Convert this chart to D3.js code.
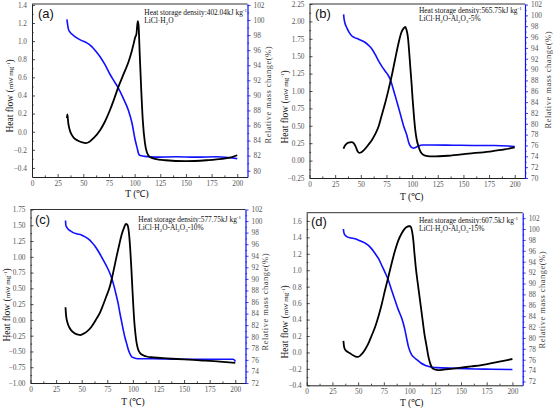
<!DOCTYPE html>
<html><head><meta charset="utf-8">
<script src="https://cdn.jsdelivr.net/npm/d3@7"></script>
<style>body{margin:0;background:#fff}svg{display:block}</style>
</head><body>
<svg id="c" width="553" height="408"></svg>
<script>
// ---------- data ----------
const tempTicks = [0,25,50,75,100,125,150,175,200];

const heatA = [[34,0.15],[34.5,0.19],[35.3,0.1],[36.5,0.03],[38.5,-0.03],[41,-0.07],[45,-0.1],[49,-0.118],[52.5,-0.125],[56,-0.11],[60,-0.07],[66.5,0.02],[71,0.11],[76,0.24],[80,0.36],[84,0.49],[89,0.63],[94,0.77],[97,0.88],[99,0.97],[100.5,1.04],[101.8,1.08],[103,1.22],[103.8,1.18],[105,0.85],[106.5,0.45],[108,0.12],[110,-0.12],[112,-0.23],[115,-0.28],[120,-0.3],[130,-0.315],[150,-0.325],[170,-0.315],[185,-0.3],[195,-0.28],[200,-0.26]];
const massA = [[34,100.1],[34.7,99.4],[35.5,98.8],[37,98.4],[40,98.0],[44,97.6],[48,97.3],[53,97.0],[58,96.5],[62,95.9],[66.5,95.1],[71,94.1],[76,92.8],[80,91.9],[84,91.0],[89,89.6],[94,88.0],[97.5,86.3],[100.5,84.1],[102.5,83.0],[104,82.2],[105.5,82.0],[110,81.9],[120,81.8],[140,81.85],[160,81.8],[180,81.85],[200,81.6]];

const heatB = [[33.2,0.17],[34,0.2],[36,0.24],[38,0.26],[41,0.265],[43,0.25],[45,0.2],[47,0.13],[48.5,0.11],[50.5,0.12],[53,0.15],[57,0.22],[61,0.3],[64,0.38],[67.3,0.49],[70,0.63],[73.8,0.83],[77,1.02],[80.3,1.23],[83.5,1.46],[86.8,1.69],[89.5,1.84],[91.7,1.9],[93.3,1.92],[94.5,1.88],[96,1.76],[97.2,1.55],[98.2,1.35],[99.5,1.1],[100.5,0.88],[102,0.6],[103,0.45],[104.5,0.3],[106.3,0.2],[108.5,0.12],[111.2,0.08],[115,0.065],[120,0.06],[135,0.07],[155,0.1],[175,0.13],[190,0.16],[200,0.19]];
const massB = [[33.2,100.2],[33.8,99.2],[34.5,98.6],[36.4,97.7],[38.5,96.9],[41.3,96.2],[44,95.9],[47.8,95.6],[54.3,95.0],[58,94.4],[60.8,93.8],[64,92.8],[67.3,91.6],[70.5,90.6],[73.8,89.7],[76.5,89.0],[78.7,88.2],[81,86.8],[83.6,85.1],[86,83.5],[88.5,81.8],[91.7,79.6],[95,77.8],[96.6,76.6],[98.2,75.9],[100,75.6],[101.5,75.5],[103,75.6],[106.3,75.9],[109.6,76.1],[119.3,76.1],[140,76.05],[161.6,76.0],[180,76.0],[194,75.9],[200,75.8]];

const heatC = [[34.2,0.2],[34.5,0.12],[35,0.04],[36.2,-0.05],[38,-0.12],[40,-0.17],[43,-0.21],[46.6,-0.235],[48.5,-0.24],[51,-0.225],[54.7,-0.19],[59,-0.12],[64.5,0.02],[68,0.12],[71,0.24],[74,0.37],[77.5,0.53],[81,0.77],[84,1.0],[86.5,1.18],[89,1.35],[91.3,1.46],[93.2,1.52],[94.5,1.51],[95.5,1.46],[96.5,1.32],[97.5,1.1],[98.5,0.82],[99.5,0.5],[100.5,0.2],[101.5,-0.05],[102.5,-0.22],[103.6,-0.36],[105,-0.46],[106.8,-0.52],[110,-0.56],[113.4,-0.58],[120,-0.595],[133,-0.61],[150,-0.625],[165.5,-0.64],[185,-0.66],[200,-0.68]];
const massC = [[34.2,100.1],[34.5,99.3],[35.5,98.9],[36.8,98.6],[39,98.3],[41.7,98.0],[45,97.8],[49.8,97.6],[53,97.3],[56.4,96.9],[60,96.3],[62.9,95.7],[65.5,95.0],[67.8,94.3],[71,93.3],[74.3,92.2],[77,91.2],[79.2,90.2],[81.5,88.8],[84,87.0],[85.8,85.6],[87.3,84.1],[89,82.6],[90.6,81.2],[92.2,79.9],[93.8,78.9],[95.5,77.8],[97,77.1],[98.6,76.6],[100.3,76.4],[103,76.25],[106.8,76.2],[120,76.2],[133,76.15],[150,76.1],[165.5,76.1],[185,76.1],[198,76.1],[199.5,75.9],[200,75.7]];

const heatD = [[35.7,0.14],[36,0.1],[36.5,0.06],[37.9,0.025],[40,0.005],[42,-0.01],[45,-0.035],[47.5,-0.05],[49.6,-0.055],[51.5,-0.045],[53.5,-0.02],[56.5,0.03],[60,0.11],[63,0.2],[66.5,0.31],[70,0.45],[73,0.59],[76,0.75],[79.4,0.92],[82.5,1.08],[85.9,1.24],[89,1.36],[92.4,1.45],[95,1.5],[97.2,1.525],[99,1.535],[100.5,1.535],[101.5,1.52],[102.5,1.47],[103.7,1.36],[104.8,1.2],[106,1.04],[108,0.84],[110.2,0.63],[112.3,0.43],[114.4,0.23],[116.5,0.08],[118.3,-0.05],[120,-0.13],[121.6,-0.18],[124,-0.205],[128,-0.215],[133,-0.21],[140,-0.2],[150,-0.185],[160,-0.17],[170,-0.155],[180,-0.13],[190,-0.105],[200,-0.08]];
const massD = [[35.7,100.0],[36,99.5],[36.6,99.1],[37.7,98.8],[38.9,98.6],[42,98.4],[47,98.2],[50,98.0],[53.5,97.7],[57,97.4],[60,97.0],[63,96.4],[66.5,95.5],[70,94.5],[73,93.3],[76,92.1],[79.4,90.6],[82.5,88.8],[85.9,86.9],[89,85.2],[92.4,83.6],[94,82.6],[95.6,81.4],[97.2,79.9],[98.9,78.4],[100.5,77.5],[102.1,76.9],[104.5,76.4],[107,76.0],[111,75.4],[115,75.0],[118,74.8],[121.6,74.6],[126,74.55],[131.3,74.5],[145,74.4],[163.7,74.3],[180,74.25],[200,74.2]];

const heatTicksA = [-0.4,-0.2,0,0.2,0.4,0.6,0.8,1.0,1.2,1.4];
const heatTicksB = [-0.25,0,0.25,0.5,0.75,1.0,1.25,1.5,1.75,2.0,2.25];
const heatTicksC = [-1.0,-0.75,-0.5,-0.25,0,0.25,0.5,0.75,1.0,1.25,1.5,1.75];
const heatTicksD = [-0.4,-0.2,0,0.2,0.4,0.6,0.8,1.0,1.2,1.4,1.6];
const massTicksA = [80,82,84,86,88,90,92,94,96,98,100,102];
const massTicksB = [70,72,74,76,78,80,82,84,86,88,90,92,94,96,98,100,102];
const massTicksC = [72,74,76,78,80,82,84,86,88,90,92,94,96,98,100,102];
const massTicksD = [72,74,76,78,80,82,84,86,88,90,92,94,96,98,100,102];

const panelLabels = ["(a)","(b)","(c)","(d)"];
const densities = ["402.04","565.75","577.75","607.5"];
const samples = [
  [["LiCl·H",""],["2","sub"],["O",""]],
  [["LiCl·H",""],["2","sub"],["O-Al",""],["2","sub"],["O",""],["3","sub"],["-5%",""]],
  [["LiCl·H",""],["2","sub"],["O-Al",""],["2","sub"],["O",""],["3","sub"],["-10%",""]],
  [["LiCl·H",""],["2","sub"],["O-Al",""],["2","sub"],["O",""],["3","sub"],["-15%",""]]
];

// ---------- layout ----------
const panels = [
  {heat:heatA, mass:massA, hT:heatTicksA, mT:massTicksA, hDom:[-0.5,1.41], mDom:[79.16,102.13], hMinor:0.1, fmt:".1f",
   L:32, R:247.5, T:4, B:177, lab:[38,18], ann:[144.3,15], lt:[10,96], xt:[137,196.5], rt:[268,95]},
  {heat:heatB, mass:massB, hT:heatTicksB, mT:massTicksB, hDom:[-0.25,2.25], mDom:[70,102.1], hMinor:0.125, fmt:".2f",
   L:309.5, R:525, T:4, B:178, lab:[315,17.5], ann:[419,13], lt:[284.3,107], xt:[411.7,199.5], rt:[548,80]},
  {heat:heatC, mass:massC, hT:heatTicksC, mT:massTicksC, hDom:[-1,1.75], mDom:[72,102], hMinor:0.125, fmt:".2f",
   L:30.5, R:245.5, T:209.5, B:383, lab:[35,224], ann:[138.3,222], lt:[6.7,305], xt:[133,404.5], rt:[265,302]},
  {heat:heatD, mass:massD, hT:heatTicksD, mT:massTicksD, hDom:[-0.4,1.7], mDom:[71.3,103], hMinor:0.1, fmt:".1f",
   L:306.7, R:522.7, T:212.7, B:385.3, lab:[311,226], ann:[419,223], lt:[285,322], xt:[411.7,406], rt:[541.7,300]}
];

const svg = d3.select("#c");
const serif = "'Liberation Serif','Times New Roman',serif";
const BLUE = "#1010ff";

panels.forEach((p,i)=>{
  const g = svg.append("g");
  const x = d3.scaleLinear().domain([0,210]).range([p.L,p.R]);
  const y = d3.scaleLinear().domain(p.hDom).range([p.B,p.T]);
  const y2 = d3.scaleLinear().domain(p.mDom).range([p.B,p.T]);

  g.append("line").attr("x1",p.L).attr("x2",p.R).attr("y1",p.T).attr("y2",p.T)
    .attr("stroke","#333").attr("stroke-width",1);

  const xMinor = [12.5,37.5,62.5,87.5,112.5,137.5,162.5,187.5];
  const gx = g.append("g").attr("transform",`translate(0,${p.B})`)
    .call(d3.axisBottom(x).tickValues(tempTicks).tickSizeInner(-3).tickSizeOuter(0).tickPadding(4).tickFormat(d3.format("d")));
  g.append("g").attr("class","minor").attr("transform",`translate(0,${p.B})`)
    .call(d3.axisBottom(x).tickValues(xMinor).tickSizeInner(-1.6).tickSizeOuter(0).tickFormat(""))
    .select(".domain").remove();

  const hm = [];
  for (let k=0;k<p.hT.length-1;k++) hm.push(+(p.hT[k]+p.hMinor).toFixed(4));
  const gy = g.append("g").attr("transform",`translate(${p.L},0)`)
    .call(d3.axisLeft(y).tickValues(p.hT).tickSizeInner(-3).tickSizeOuter(0).tickPadding(5).tickFormat(d3.format(p.fmt)));
  g.append("g").attr("class","minor").attr("transform",`translate(${p.L},0)`)
    .call(d3.axisLeft(y).tickValues(hm).tickSizeInner(-1.6).tickSizeOuter(0).tickFormat(""))
    .select(".domain").remove();

  const mm = p.mT.slice(0,-1).map(v=>v+1);
  const gr = g.append("g").attr("transform",`translate(${p.R},0)`)
    .call(d3.axisRight(y2).tickValues(p.mT).tickSizeInner(3).tickSizeOuter(0).tickPadding(3).tickFormat(d3.format("d")));
  const grm = g.append("g").attr("transform",`translate(${p.R},0)`)
    .call(d3.axisRight(y2).tickValues(mm).tickSizeInner(1.6).tickSizeOuter(0).tickFormat(""));
  grm.select(".domain").remove();
  grm.selectAll(".tick line").attr("stroke",BLUE);

  [gx,gy].forEach(a=>{
    a.select(".domain").attr("stroke","#222");
    a.selectAll(".tick line").attr("stroke","#222");
    a.selectAll(".tick text").attr("fill","#555").style("font-family",serif).style("font-size","7.3px");
  });
  g.selectAll(".minor .tick line").attr("stroke","#222");
  gr.select(".domain").attr("stroke",BLUE).attr("stroke-width",1.2);
  gr.selectAll(".tick line").attr("stroke",BLUE);
  gr.selectAll(".tick text").attr("fill","#555").style("font-family",serif).style("font-size","7.3px");
  g.selectAll(".tick line").attr("stroke-width",0.8);

  const lineH = d3.line().x(d=>x(d[0])).y(d=>y(d[1])).curve(d3.curveMonotoneX);
  const lineM = d3.line().x(d=>x(d[0])).y(d=>y2(d[1])).curve(d3.curveMonotoneX);
  g.append("path").datum(p.mass).attr("d",lineM).attr("fill","none").attr("stroke",BLUE).attr("stroke-width",1.6);
  g.append("path").datum(p.heat).attr("d",lineH).attr("fill","none").attr("stroke","#000").attr("stroke-width",1.8);

  g.append("text").attr("x",p.lab[0]).attr("y",p.lab[1]).text(panelLabels[i])
    .style("font-family","'Liberation Sans',Arial,sans-serif").style("font-size","13px").attr("fill","#111");

  const a1 = g.append("text").attr("x",p.ann[0]).attr("y",p.ann[1])
    .style("font-family",serif).style("font-size","7.4px").attr("fill","#111");
  a1.append("tspan").text("Heat storage density:"+densities[i]+"kJ kg");
  a1.append("tspan").text("-1").attr("dy",-2.6).style("font-size","5px");
  const a2 = g.append("text").attr("x",p.ann[0]).attr("y",p.ann[1]+8.3)
    .style("font-family",serif).style("font-size","7.4px").attr("fill","#111");
  let shift = 0;
  samples[i].forEach(([t,k])=>{
    const ts = a2.append("tspan").text(t);
    if (k==="sub"){ ts.attr("dy",1.8-shift).style("font-size","5px"); shift=1.8; }
    else { ts.attr("dy",-shift); shift=0; }
  });

  const lt = g.append("text").attr("transform",`translate(${p.lt[0]+3.3},${p.lt[1]}) rotate(-90)`)
    .attr("text-anchor","middle").style("font-family",serif).style("font-size","9.5px").attr("fill","#111");
  lt.append("tspan").text("Heat flow (");
  lt.append("tspan").text("mW mg").style("font-size","7px");
  lt.append("tspan").text("-1").attr("dy",-3.2).style("font-size","5px");
  lt.append("tspan").text(")").attr("dy",3.2);

  g.append("text").attr("x",p.xt[0]).attr("y",p.xt[1]).attr("text-anchor","middle")
    .style("font-family",serif).style("font-size","9.5px").attr("fill","#111").text("T (℃)");

  g.append("text").attr("transform",`translate(${p.rt[0]+3},${p.rt[1]}) rotate(-90)`)
    .attr("text-anchor","middle").style("font-family",serif).style("font-size","8.5px").attr("fill","#444")
    .attr("textLength",97).attr("lengthAdjust","spacing").text("Relative mass change(%)");
});
</script>
</body></html>
